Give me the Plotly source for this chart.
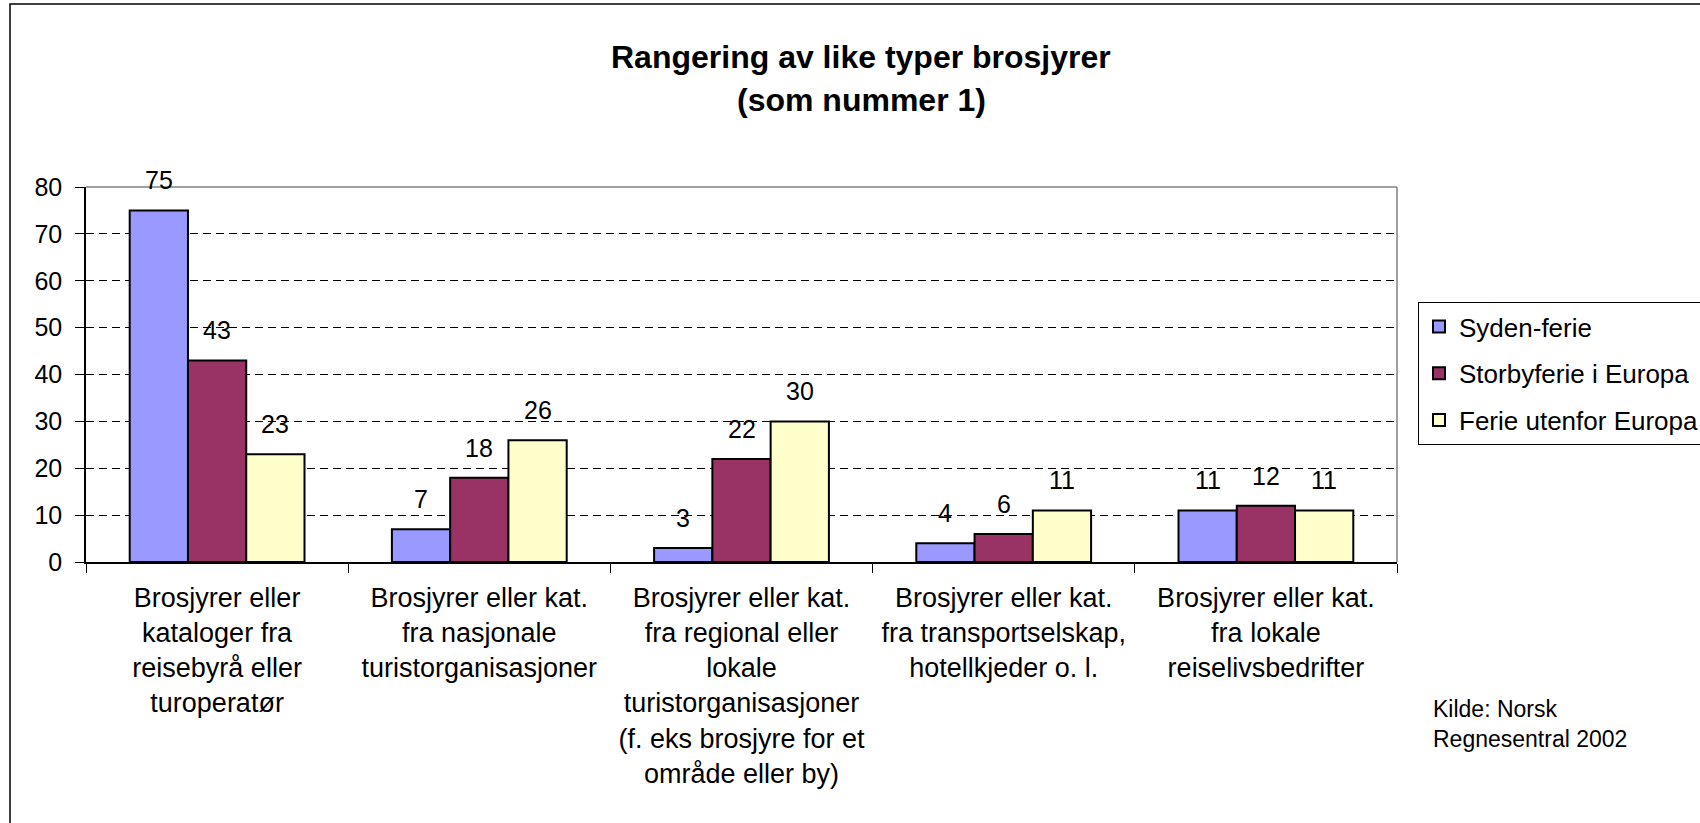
import plotly.graph_objects as go

categories = [
    "Brosjyrer eller<br>kataloger fra<br>reisebyrå eller<br>turoperatør",
    "Brosjyrer eller kat.<br>fra nasjonale<br>turistorganisasjoner",
    "Brosjyrer eller kat.<br>fra regional eller<br>lokale<br>turistorganisasjoner<br>(f. eks brosjyre for et<br>område eller by)",
    "Brosjyrer eller kat.<br>fra transportselskap,<br>hotellkjeder o. l.",
    "Brosjyrer eller kat.<br>fra lokale<br>reiselivsbedrifter",
]
series_names = ["Syden-ferie", "Storbyferie i Europa", "Ferie utenfor Europa"]
syden = [75, 7, 3, 4, 11]
storby = [43, 18, 22, 6, 12]
utenfor = [23, 26, 30, 11, 11]
colors = ["#9999FF", "#993366", "#FFFFCC"]
y_ticks = [0, 10, 20, 30, 40, 50, 60, 70, 80]
title_lines = ["Rangering av like typer brosjyrer", "(som nummer 1)"]
source_text = "Kilde: Norsk<br>Regnesentral 2002"

FONT = "Liberation Sans, Arial, sans-serif"
W, H = 1700, 823
# plot area in page pixels
P_LEFT, P_RIGHT, P_TOP, P_BOTTOM = 86, 1397, 187, 562
L, T = P_LEFT, P_TOP
R, B = W - P_RIGHT, H - P_BOTTOM
PW, PH = P_RIGHT - P_LEFT, P_BOTTOM - P_TOP


def px_x(p):
    return (p - P_LEFT) / PW


def px_y(p):
    return (P_BOTTOM - p) / PH


fig = go.Figure()
all_series = [syden, storby, utenfor]
for i, (name, vals) in enumerate(zip(series_names, all_series)):
    fig.add_trace(go.Bar(
        x=categories, y=vals, name=name,
        marker=dict(color=colors[i], line=dict(color="black", width=2)),
        legendgroup=name,
    ))

bargap = 1 / 3
bar_w = PW / len(categories) * (1 - bargap) / 3
annotations = []
for i, vals in enumerate(all_series):
    for c, v in zip(categories, vals):
        annotations.append(dict(
            x=c, y=v, xref="x", yref="y", text=str(v), showarrow=False,
            xshift=(i - 1) * bar_w, yshift=30, yanchor="middle",
            font=dict(family=FONT, size=25, color="black"),
        ))

for line, yc in zip(title_lines, [57, 100]):
    annotations.append(dict(
        x=px_x(861), y=px_y(yc), xref="paper", yref="paper",
        text="<b>" + line + "</b>",
        showarrow=False, xanchor="center", yanchor="middle",
        font=dict(family=FONT, size=32, color="black"),
    ))
annotations.append(dict(
    x=px_x(1431), y=px_y(694), xref="paper", yref="paper",
    text=source_text, align="left",
    showarrow=False, xanchor="left", yanchor="top",
    font=dict(family=FONT, size=23, color="black"),
))

shapes = [
    # outer chart frame
    dict(type="rect", xref="paper", yref="paper",
         x0=px_x(10), x1=px_x(1712), y0=px_y(830), y1=px_y(4),
         line=dict(color="black", width=1.5), layer="below"),
    # plot area border top and right (gray)
    dict(type="line", xref="paper", yref="paper", x0=0, x1=1, y0=1, y1=1,
         line=dict(color="#808080", width=1.5), layer="above"),
    dict(type="line", xref="paper", yref="paper", x0=1, x1=1, y0=0, y1=1,
         line=dict(color="#808080", width=1.5), layer="above"),
]

fig.update_layout(
    width=W, height=H,
    margin=dict(l=L, r=R, t=T, b=B, autoexpand=False),
    paper_bgcolor="white", plot_bgcolor="white",
    barmode="group", bargap=bargap, bargroupgap=0,
    font=dict(family=FONT, size=25, color="black"),
    showlegend=True,
    legend=dict(
        x=px_x(1418), y=px_y(302), xanchor="left", yanchor="top",
        bgcolor="white", bordercolor="black", borderwidth=1,
        font=dict(family=FONT, size=26, color="black"),
        tracegroupgap=10, itemsizing="constant",
    ),
    xaxis=dict(
        type="category", showline=True, linecolor="black", linewidth=1.5,
        ticks="outside", ticklen=9, tickcolor="black", tickson="boundaries",
        showgrid=False, ticklabelstandoff=11,
        tickfont=dict(family=FONT, size=27, color="black"),
    ),
    yaxis=dict(
        range=[0, 80], tickvals=y_ticks, showline=True, linecolor="black",
        linewidth=1.5, ticks="outside", ticklen=9, tickcolor="black",
        showgrid=True, gridcolor="black", gridwidth=1, griddash="8px,5px",
        zeroline=False, ticklabelstandoff=8,
        tickfont=dict(family=FONT, size=25, color="black"),
    ),
    annotations=annotations,
    shapes=shapes,
)

fig.write_html(
    "out.html",
    config={"displayModeBar": False},
    post_script="document.body.style.margin='0px';document.body.style.overflow='hidden';",
)
